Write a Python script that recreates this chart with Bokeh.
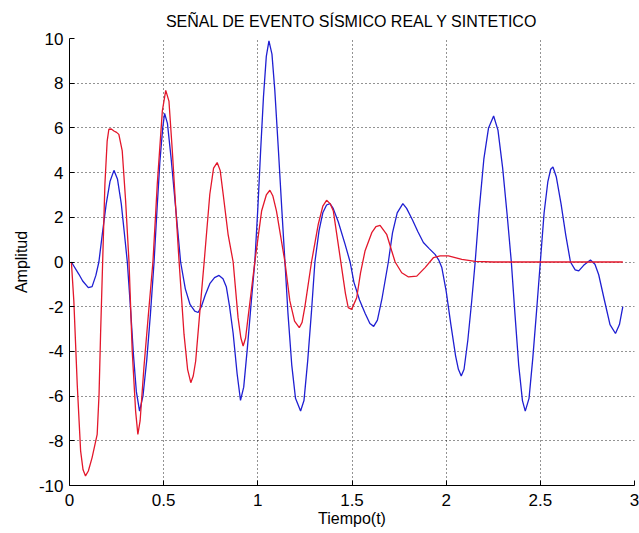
from bokeh.plotting import figure
from bokeh.models import Range1d, FixedTicker
from bokeh.embed import file_html
from bokeh.resources import INLINE

title_text = "SEÑAL DE EVENTO SÍSMICO REAL Y SINTETICO"
x_label = "Tiempo(t)"
y_label = "Amplitud"
x_ticks = [0, 0.5, 1, 1.5, 2, 2.5, 3]
y_ticks = [-10, -8, -6, -4, -2, 0, 2, 4, 6, 8, 10]

# Señal real (azul)
t_real = [0.01, 0.05, 0.07, 0.10, 0.12, 0.14, 0.156, 0.175, 0.195, 0.215, 0.236,
          0.255, 0.275, 0.29, 0.307, 0.325, 0.34, 0.355, 0.372, 0.39, 0.41, 0.43,
          0.449, 0.465, 0.48, 0.495, 0.505, 0.52, 0.54, 0.565, 0.59, 0.615, 0.64,
          0.665, 0.683, 0.70, 0.72, 0.745, 0.77, 0.794, 0.815, 0.833, 0.85, 0.869,
          0.89, 0.908, 0.925, 0.945, 0.965, 0.984, 1.0, 1.015, 1.03, 1.045, 1.059,
          1.075, 1.09, 1.11, 1.127, 1.144, 1.16, 1.18, 1.2, 1.227, 1.245, 1.265,
          1.285, 1.303, 1.325, 1.345, 1.365, 1.383, 1.40, 1.427, 1.463, 1.49, 1.51,
          1.54, 1.57, 1.595, 1.615, 1.635, 1.66, 1.693, 1.715, 1.74, 1.77, 1.79,
          1.82, 1.85, 1.879, 1.91, 1.941, 1.96, 1.977, 2.0, 2.025, 2.05, 2.065,
          2.08, 2.095, 2.115, 2.135, 2.154, 2.175, 2.2, 2.225, 2.252, 2.275, 2.3,
          2.325, 2.346, 2.365, 2.385, 2.405, 2.42, 2.44, 2.46, 2.48, 2.5, 2.52,
          2.54, 2.555, 2.567, 2.585, 2.61, 2.635, 2.66, 2.685, 2.704, 2.73, 2.766,
          2.79, 2.81, 2.84, 2.87, 2.899, 2.92, 2.938]
amp_real = [0, -0.55, -0.85, -1.15, -1.1, -0.6, 0, 1.3, 2.6, 3.6, 4.1,
            3.7, 2.6, 1.4, 0, -2.2, -4.2, -5.8, -6.67, -6.0, -4.4, -2.3,
            0, 2.4, 4.5, 6.0, 6.65, 6.2, 4.6, 2.3, 0, -1.2, -1.9,
            -2.2, -2.26, -2.0, -1.5, -0.97, -0.7, -0.6, -0.75, -1.12, -2.0, -3.2,
            -5.0, -6.19, -5.6, -3.8, -1.8, 0, 2.4, 5.0, 7.4, 9.2, 9.89,
            9.3, 7.7, 4.9, 2.4, 0, -2.3, -4.6, -6.1, -6.67, -6.2, -4.4,
            -2.2, 0, 1.4, 2.2, 2.55, 2.61, 2.4, 1.8, 0.8, 0, -0.9,
            -1.7, -2.3, -2.75, -2.88, -2.6, -1.6, 0, 1.3, 2.2, 2.61, 2.4,
            1.9, 1.35, 0.87, 0.6, 0.34, 0.1, -0.25, -1.3, -2.8, -4.2, -4.8,
            -5.1, -4.8, -3.5, -1.8, 0, 2.3, 4.6, 6.0, 6.53, 5.9, 4.2,
            2.0, 0, -2.3, -4.6, -6.2, -6.67, -6.1, -4.3, -2.2, 0, 2.2,
            3.6, 4.15, 4.25, 3.8, 2.6, 1.2, 0, -0.35, -0.4, -0.15, 0.09,
            -0.1, -0.57, -1.7, -2.8, -3.2, -2.8, -2.0]

# Señal sintética (rojo)
t_sint = [0.01, 0.023, 0.041, 0.059, 0.072, 0.085, 0.10, 0.12, 0.147, 0.157,
          0.165, 0.176, 0.188, 0.20, 0.209, 0.222, 0.236, 0.25, 0.262, 0.28,
          0.298, 0.316, 0.333, 0.351, 0.363, 0.375, 0.395, 0.422, 0.443, 0.466,
          0.493, 0.511, 0.528, 0.546, 0.564, 0.582, 0.608, 0.627, 0.644, 0.657,
          0.67, 0.697, 0.715, 0.745, 0.765, 0.784, 0.80, 0.816, 0.842, 0.869,
          0.895, 0.91, 0.922, 0.935, 0.948, 0.984, 1.02, 1.045, 1.064, 1.08,
          1.099, 1.144, 1.17, 1.195, 1.22, 1.235, 1.25, 1.285, 1.321, 1.345,
          1.365, 1.385, 1.401, 1.425, 1.445, 1.465, 1.48, 1.498, 1.525, 1.545,
          1.569, 1.605, 1.627, 1.649, 1.684, 1.711, 1.729, 1.764, 1.8, 1.844,
          1.888, 1.933, 1.968, 2.012, 2.083, 2.154, 2.25, 2.5, 2.75, 2.938]
amp_sint = [0, -1.74, -5.47, -8.45, -9.3, -9.57, -9.35, -8.75, -7.71, -5.9,
            -3.23, 0, 3.48, 5.41, 5.94, 5.95, 5.86, 5.8, 5.71, 4.97,
            2.73, 0, -3.98, -6.67, -7.71, -7.1, -4.73, -2.04, 0, 3.48,
            6.76, 7.68, 7.2, 4.97, 2.43, 0, -3.23, -4.8, -5.4, -5.1,
            -4.43, -1.74, 0, 3.03, 4.2, 4.45, 4.1, 3.03, 1.24, 0,
            -2.49, -3.4, -3.76, -3.4, -2.49, 0, 2.28, 3.0, 3.21, 2.95,
            2.28, 0, -1.74, -2.65, -2.94, -2.7, -2.0, 0, 1.69, 2.5,
            2.76, 2.6, 2.28, 0.9, -0.25, -1.4, -2.04, -2.12, -1.6, -0.5,
            0.49, 1.31, 1.58, 1.64, 1.24, 0.49, 0, -0.48, -0.67, -0.63,
            -0.25, 0.2, 0.27, 0.27, 0.12, 0.03, 0.0, 0.0, 0.0, 0.0]

p = figure(width=639, height=533, output_backend="svg", toolbar_location=None,
           x_range=Range1d(0, 3), y_range=Range1d(-10, 10),
           min_border_left=69, min_border_right=5, min_border_top=38,
           min_border_bottom=48)
p.background_fill_color = "white"
p.border_fill_color = "white"
p.outline_line_color = None

p.title.text = title_text
p.title.align = "center"
p.title.text_font = "Liberation Sans"
p.title.text_font_size = "16px"
p.title.text_font_style = "normal"
p.title.text_color = "black"
p.title.standoff = 17

for ax in (p.xaxis[0], p.yaxis[0]):
    ax.axis_line_color = "black"
    ax.axis_line_width = 1
    ax.major_tick_in = 5
    ax.major_tick_out = 0
    ax.minor_tick_line_color = None
    ax.major_tick_line_color = "black"
    ax.major_label_text_font = "Liberation Sans"
    ax.major_label_text_font_size = "17px"
    ax.major_label_text_color = "black"
    ax.axis_label_text_font = "Liberation Sans"
    ax.axis_label_text_font_size = "16px"
    ax.axis_label_text_font_style = "normal"
    ax.axis_label_text_color = "black"

p.xaxis.ticker = FixedTicker(ticks=x_ticks)
p.yaxis.ticker = FixedTicker(ticks=y_ticks)
p.xaxis.major_label_overrides = {0: "0", 1: "1", 2: "2", 3: "3"}
p.yaxis.major_label_overrides = {v: ("-" + str(-v) if v < 0 else str(v)) for v in y_ticks}
p.xaxis.axis_label = x_label
p.yaxis.axis_label = y_label
p.xaxis.major_label_standoff = 8
p.yaxis.major_label_standoff = 6
p.xaxis.axis_label_standoff = 1
p.yaxis.axis_label_standoff = 6

for g in (p.xgrid[0], p.ygrid[0]):
    g.grid_line_color = "black"
    g.grid_line_dash = "1 3"
    g.grid_line_width = 1
    g.grid_line_alpha = 0.85

p.line(t_real, amp_real, line_color="#1f1fd2", line_width=1.3)
p.line(t_sint, amp_sint, line_color="#e3172b", line_width=1.3)

open("out.html", "w").write(file_html(p, INLINE))
